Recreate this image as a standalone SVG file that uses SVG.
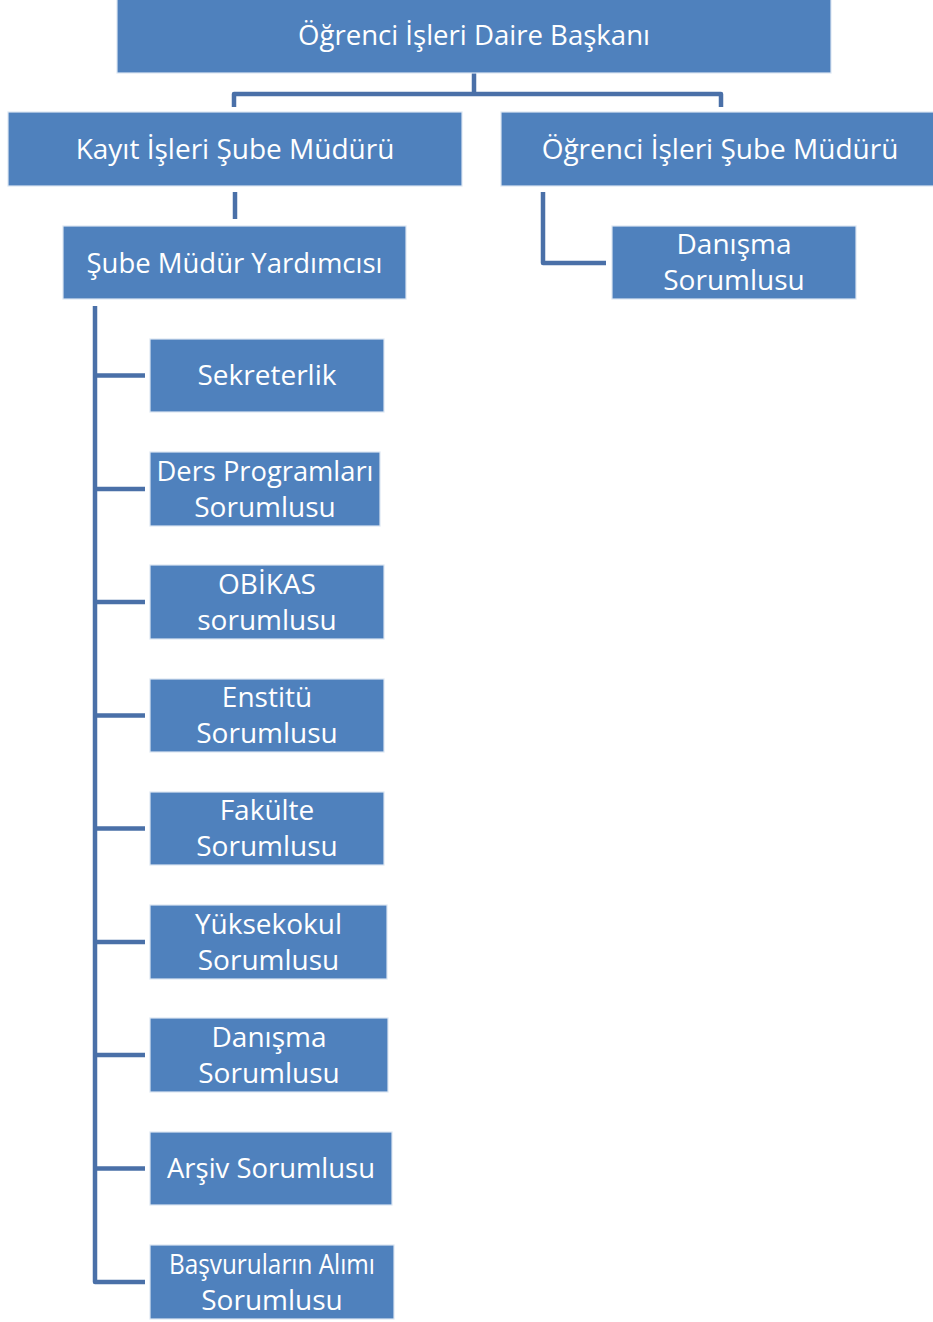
<svg xmlns="http://www.w3.org/2000/svg" width="933" height="1322" viewBox="0 0 933 1322">
<style>
.box{fill:#4F81BD;stroke:#DCE6F2;stroke-width:1.2}
.t{font-family:"Open Sans","Liberation Sans",sans-serif;font-size:28px;fill:#FFFFFF;text-anchor:middle}
.c{fill:none;stroke:#4A70A8;stroke-width:4.5;stroke-linejoin:round;stroke-linecap:butt}
</style>
<rect width="933" height="1322" fill="#FFFFFF"/>
<g id="connectors">
<path class="c" d="M474 73 V94 M234 107 V94 H721 V107"/>
<path class="c" d="M235 192 V219"/>
<path class="c" d="M543 192 V263 H606"/>
<path class="c" d="M95 306 V1282 H145"/>
<path class="c" d="M95 375.5 H145 M95 489 H145 M95 602 H145 M95 715.5 H145 M95 828.5 H145 M95 942 H145 M95 1055 H145 M95 1168.5 H145"/>
</g>
<g id="n-daire">
<rect class="box" x="117" y="-2" width="714" height="75"/>
<text class="t" x="474" y="44.5" textLength="352" lengthAdjust="spacingAndGlyphs">Öğrenci İşleri Daire Başkanı</text>
</g>
<g id="n-kayit">
<rect class="box" x="8" y="112" width="454" height="74"/>
<text class="t" x="235" y="159">Kayıt İşleri Şube Müdürü</text>
</g>
<g id="n-ogrenci">
<rect class="box" x="501" y="112" width="440" height="74"/>
<text class="t" x="720" y="159">Öğrenci İşleri Şube Müdürü</text>
</g>
<g id="n-yardimci">
<rect class="box" x="63" y="226" width="343" height="73"/>
<text class="t" x="234.5" y="272.5" textLength="296" lengthAdjust="spacingAndGlyphs">Şube Müdür Yardımcısı</text>
</g>
<g id="n-danisma-r">
<rect class="box" x="612" y="226" width="244" height="73"/>
<text class="t" x="734" y="254">Danışma</text>
<text class="t" x="734" y="290">Sorumlusu</text>
</g>
<g id="n-sekreterlik">
<rect class="box" x="150" y="339" width="234" height="73"/>
<text class="t" x="267" y="385">Sekreterlik</text>
</g>
<g id="n-ders">
<rect class="box" x="150" y="452" width="230" height="74"/>
<text class="t" x="265" y="480.5" textLength="217" lengthAdjust="spacingAndGlyphs">Ders Programları</text>
<text class="t" x="265" y="516.5">Sorumlusu</text>
</g>
<g id="n-obikas">
<rect class="box" x="150" y="565" width="234" height="74"/>
<text class="t" x="267" y="593.5">OBİKAS</text>
<text class="t" x="267" y="629.5">sorumlusu</text>
</g>
<g id="n-enstitu">
<rect class="box" x="150" y="679" width="234" height="73"/>
<text class="t" x="267" y="707">Enstitü</text>
<text class="t" x="267" y="743">Sorumlusu</text>
</g>
<g id="n-fakulte">
<rect class="box" x="150" y="792" width="234" height="73"/>
<text class="t" x="267" y="820">Fakülte</text>
<text class="t" x="267" y="856">Sorumlusu</text>
</g>
<g id="n-yuksekokul">
<rect class="box" x="150" y="905" width="237" height="74"/>
<text class="t" x="268.5" y="933.5">Yüksekokul</text>
<text class="t" x="268.5" y="969.5">Sorumlusu</text>
</g>
<g id="n-danisma-l">
<rect class="box" x="150" y="1018" width="238" height="74"/>
<text class="t" x="269" y="1046.5">Danışma</text>
<text class="t" x="269" y="1082.5">Sorumlusu</text>
</g>
<g id="n-arsiv">
<rect class="box" x="150" y="1132" width="242" height="73"/>
<text class="t" x="271" y="1178" textLength="208" lengthAdjust="spacingAndGlyphs">Arşiv Sorumlusu</text>
</g>
<g id="n-basvuru">
<rect class="box" x="150" y="1245" width="244" height="74"/>
<text class="t" x="272" y="1273.5" textLength="206" lengthAdjust="spacingAndGlyphs">Başvuruların Alımı</text>
<text class="t" x="272" y="1309.5">Sorumlusu</text>
</g>
</svg>
